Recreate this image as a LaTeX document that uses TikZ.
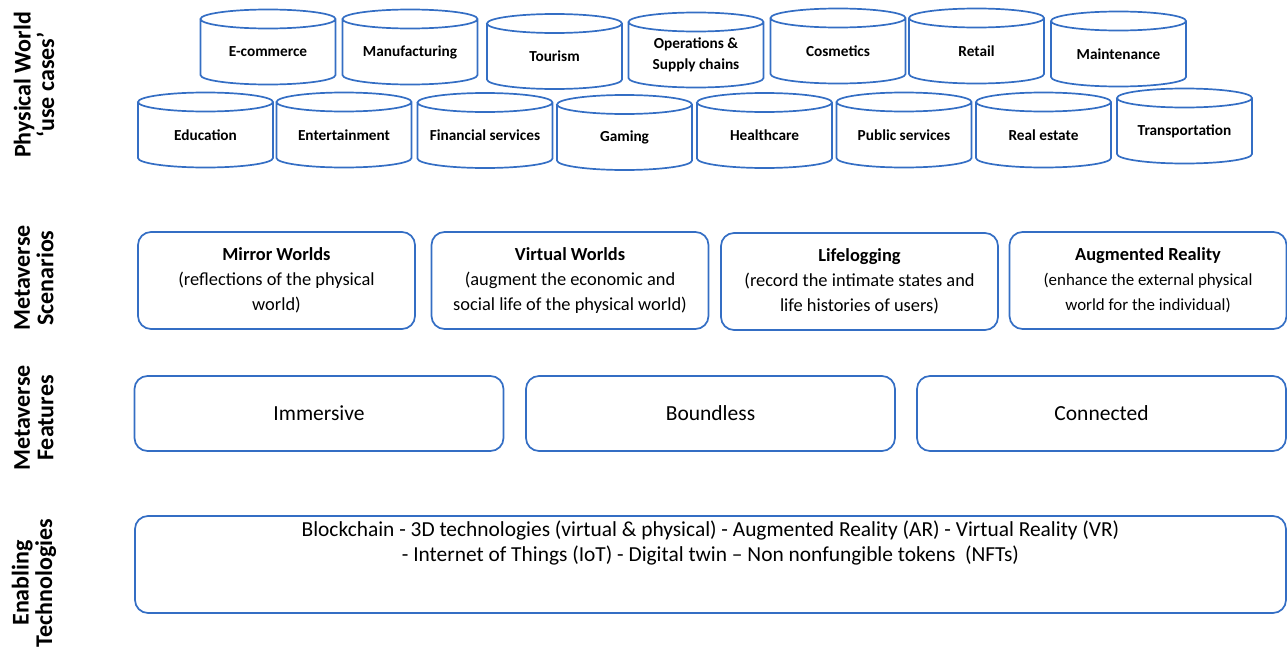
\documentclass[tikz,border=0pt]{standalone}
\usepackage{fontspec}
\setmainfont{Carlito}
\usepackage{tikz}
\usetikzlibrary{positioning}
\definecolor{layerblue}{RGB}{52,110,196}
\newcommand{\ardesc}{\fontsize{16.9}{24}\selectfont}
\tikzset{
	layer label/.style={
		rotate=90,
		align=center,
		inner sep=0pt,
		font=\bfseries\fontsize{24}{23.5}\selectfont
	},
	every usecase/.style={
		align=center,
		inner sep=0pt,
		font=\bfseries\fontsize{15.3}{21}\selectfont
	},
	cylinder line/.style={
		draw=layerblue,
		line width=1.7pt
	},
	layer box/.style={
		draw=layerblue,
		line width=1.7pt,
		rounded corners=13pt,
		align=center
	},
	scenario box/.style={
		layer box,
		minimum width=277pt,
		minimum height=97pt,
		font=\fontsize{18.4}{24.8}\selectfont
	},
	feature box/.style={
		layer box,
		minimum width=369pt,
		minimum height=75pt,
		font=\fontsize{21.5}{26}\selectfont
	},
	tech box/.style={
		layer box,
		minimum width=1151pt,
		minimum height=97pt
	},
	tech text/.style={
		align=center,
		inner sep=0pt,
		font=\fontsize{21.4}{25}\selectfont
	},
}

\begin{document}
\begin{tikzpicture}[x=1pt, y=-1pt]
\useasboundingbox (0,0) rectangle (1287,653);

% layer names on the left
\foreach \t/\y [count=\i] in {Physical World\\‘use cases’/85, Metaverse\\Scenarios/278, Metaverse\\Features/418, Enabling\\Technologies/583}
	\node [layer label] (layer-\i) at (34,\y) {\t};

% physical world use cases
\foreach \n/\t/\x/\y in {ecom/E-commerce/268/52, manu/Manufacturing/410/52, tour/Tourism/554.5/56.5,
		ops/Operations \&\\Supply chains/696/55, cosm/Cosmetics/838/51, retail/Retail/976.5/51,
		maint/Maintenance/1118.5/54,
		edu/Education/205.5/135, ent/Entertainment/344/135, fin/Financial services/485/135.5,
		gam/Gaming/624.5/137.5, health/Healthcare/764.5/135.5, pub/Public services/904/135,
		real/Real estate/1043.5/135, trans/Transportation/1184.5/131}
	\node [every usecase/.try] (\n) at (\x,\y) {\t};

\foreach \n in {ecom,manu,tour,ops,cosm,retail,maint,edu,ent,fin,gam,health,pub,real,trans}
	\draw [cylinder line] ([shift={(-67.5pt,33pt)}]\n.center) -- ([shift={(-67.5pt,-23pt)}]\n.center)
		arc [start angle=180, end angle=360, x radius=67.5pt, y radius=9.5pt]
		-- ([shift={(67.5pt,33pt)}]\n.center)
		arc [start angle=0, end angle=360, x radius=67.5pt, y radius=9.5pt];

% metaverse scenarios
\node [scenario box] (mirror) at (276.5,280.5)
	{\textbf{Mirror Worlds}\\(reflections of the physical\\world)};
\node [scenario box] (virtual) at (570,280.5)
	{\textbf{Virtual Worlds}\\(augment the economic and\\social life of the physical world)};
\node [scenario box] (lifelog) at (859.5,281.5)
	{\textbf{Lifelogging}\\(record the intimate states and\\life histories of users)};
\node [scenario box] (ar) at (1148,280.5)
	{\textbf{Augmented Reality}\\\ardesc(enhance the external physical\\\ardesc world for the individual)};

% metaverse features
\foreach \n/\t/\x in {immersive/Immersive/319, boundless/Boundless/710.5, connected/Connected/1101.5}
	\node [feature box] (\n) at (\x,413.5) {\t};

% enabling technologies
\node [tech box] (tech) at (710.5,564.5) {};
\node [tech text, below=5pt of tech.north] (tech-text)
	{Blockchain - 3D technologies (virtual \& physical) - Augmented Reality (AR) - Virtual Reality (VR)\\
	- Internet of Things (IoT) - Digital twin -- Non nonfungible tokens\ \ (NFTs)};

\end{tikzpicture}
\end{document}
